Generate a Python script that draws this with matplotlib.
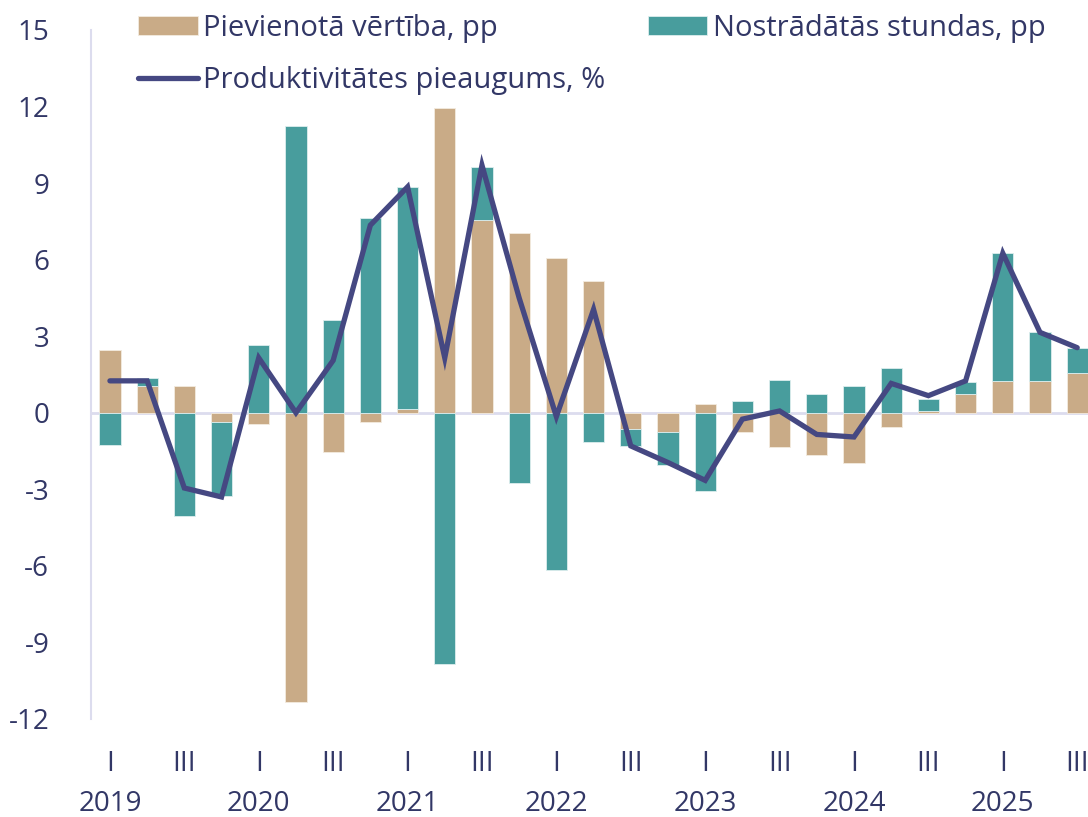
import matplotlib
matplotlib.use("Agg")
import matplotlib.pyplot as plt
import numpy as np

plt.rcParams['font.family'] = ['Open Sans', 'DejaVu Sans']
plt.rcParams['axes.unicode_minus'] = False

# Quarters 2019 Q1 .. 2025 Q3
quarters = ["I", "II", "III", "IV"] * 6 + ["I", "II", "III"]
years = ["2019", "2020", "2021", "2022", "2023", "2024", "2025"]

# contributions, pp
value_added = [2.45, 1.05, 1.05, -0.35, -0.45, -11.35, -1.55, -0.35,
               0.15, 11.95, 7.55, 7.05, 6.05, 5.15, -0.65, -0.75,
               0.35, -0.75, -1.35, -1.65, -1.95, -0.55, 0.05, 0.75,
               1.25, 1.25, 1.55]
hours_worked = [-1.25, 0.3, -4.05, -2.9, 2.65, 11.25, 3.65, 7.65,
                8.7, -9.85, 2.1, -2.75, -6.15, -1.15, -0.65, -1.3,
                -3.05, 0.45, 1.3, 0.75, 1.05, 1.75, 0.5, 0.45,
                5.0, 1.9, 1.0]
# productivity growth, %
productivity = [1.25, 1.25, -2.95, -3.3, 2.15, 0.0, 2.05, 7.35,
                8.85, 2.15, 9.7, 4.5, -0.15, 4.05, -1.3, -1.95,
                -2.65, -0.25, 0.07, -0.85, -0.95, 1.15, 0.67, 1.25,
                6.25, 3.15, 2.55]

tan = '#C9AB87'
teal = '#489D9D'
navy = '#454882'
txt = '#323766'
grid_c = '#DCDCEE'

x = np.arange(len(quarters))
va = np.array(value_added)
hw = np.array(hours_worked)

# diverging stack: value added first, hours on top of it (same sign)
hw_bottom = np.where(np.sign(hw) == np.sign(va), va, 0)

fig = plt.figure(figsize=(10.88, 8.17), dpi=100)
ax = fig.add_axes([0.0836, 0.12, 0.9164, 0.8433])

w = 0.57
b1 = ax.bar(x, va, w, color=tan, edgecolor='#F3EBDF', linewidth=0.6,
            label='Pievienotā vērtība, pp', zorder=2)
b2 = ax.bar(x, hw, w, bottom=hw_bottom, color=teal, edgecolor='#DDEEEE',
            linewidth=0.6, label='Nostrādātās stundas, pp', zorder=2)
ax.axhline(0, color=grid_c, lw=2, zorder=1)
l1, = ax.plot(x, productivity, color=navy, lw=3.8, solid_capstyle='round',
              solid_joinstyle='miter', label='Produktivitātes pieaugums, %',
              zorder=3)

ax.set_ylim(-12, 15)
ax.set_xlim(-0.51, 26.29)
ax.set_yticks(np.arange(-12, 16, 3))
ax.tick_params(axis='y', length=0, pad=30, labelsize=20, labelcolor=txt)

ax.set_xticks(x)
ax.set_xticklabels([q if q in ("I", "III") else "" for q in quarters])
ax.tick_params(axis='x', length=0, pad=22, labelsize=20, labelcolor=txt)
for i, yr in enumerate(years):
    ax.text(i * 4, -0.124, yr, transform=ax.get_xaxis_transform(),
            ha='center', va='center', fontsize=20, color=txt)

for s in ['top', 'right', 'bottom']:
    ax.spines[s].set_visible(False)
ax.spines['left'].set_color(grid_c)
ax.spines['left'].set_linewidth(1.5)

fig.legend([b1, l1, b2], [b1.get_label(), l1.get_label(), b2.get_label()],
           loc='upper left', bbox_to_anchor=(0.108, 1.008), ncol=2,
           frameon=False, fontsize=21, labelcolor=txt, handlelength=2.05,
           handleheight=0.6, handletextpad=0.18, columnspacing=1.45,
           labelspacing=0.8, borderpad=0.2)

fig.savefig("out.png", dpi=100)
